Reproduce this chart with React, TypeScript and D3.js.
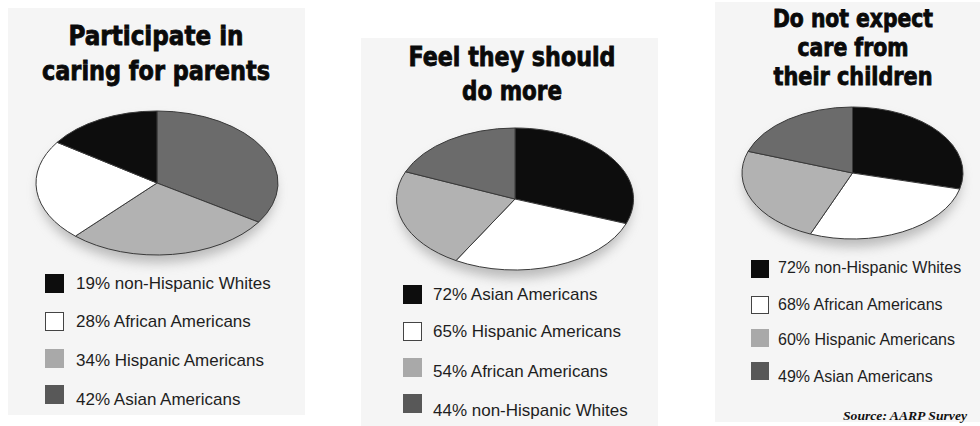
import React from "react";
import * as d3 from "d3";

// ---- data ----
const titles1 = ["Participate in", "caring for parents"];
const groups1 = ["non-Hispanic Whites", "African Americans", "Hispanic Americans", "Asian Americans"];
const values1 = [19, 28, 34, 42];

const titles2 = ["Feel they should", "do more"];
const groups2 = ["Asian Americans", "Hispanic Americans", "African Americans", "non-Hispanic Whites"];
const values2 = [72, 65, 54, 44];

const titles3 = ["Do not expect", "care from", "their children"];
const groups3 = ["non-Hispanic Whites", "African Americans", "Hispanic Americans", "Asian Americans"];
const values3 = [72, 68, 60, 49];

const sourceNote = "Source: AARP Survey";

// ---- styles ----
const swatches = ["#0d0d0d", "#ffffff", "#b2b2b2", "#6b6b6b"];
const legendSwatches = ["#0d0d0d", "#ffffff", "#a9a9a9", "#585858"];

type Layout = {
  bg: { x: number; y: number; w: number; h: number };
  cx: number; cy: number; rx: number; ry: number;
  reverse: boolean;
  titleX: number; titleY: number[]; titleSize: number; titleLens: number[];
  legendX: number; sw: number; squareY: number[];
  textX: number; textY: number[]; fontSize: number;
};

const layouts: Layout[] = [
  {
    bg: { x: 8, y: 8, w: 297, h: 407 },
    cx: 157, cy: 183, rx: 121, ry: 72, reverse: true,
    titleX: 156, titleY: [45, 80], titleSize: 27, titleLens: [175, 228],
    legendX: 45, sw: 19, squareY: [274, 312, 349, 385],
    textX: 76, textY: [289, 327, 366, 405], fontSize: 17,
  },
  {
    bg: { x: 361, y: 38, w: 297, h: 388 },
    cx: 515, cy: 199, rx: 118.5, ry: 71, reverse: false,
    titleX: 512, titleY: [66, 100], titleSize: 27, titleLens: [207, 100],
    legendX: 403, sw: 19, squareY: [285, 322, 358, 394],
    textX: 433, textY: [300, 337, 377, 416], fontSize: 17,
  },
  {
    bg: { x: 715, y: 2, w: 265, h: 420 },
    cx: 852.5, cy: 173, rx: 110.5, ry: 66, reverse: false,
    titleX: 853, titleY: [27, 56, 85], titleSize: 24, titleLens: [160, 111, 159],
    legendX: 751, sw: 18, squareY: [260, 296, 329, 362],
    textX: 778, textY: [273, 310, 345, 382], fontSize: 16,
  },
];

const panelData = [
  { titles: titles1, groups: groups1, values: values1 },
  { titles: titles2, groups: groups2, values: values2 },
  { titles: titles3, groups: groups3, values: values3 },
];

const titleFont = "'Liberation Sans Narrow', 'DejaVu Sans Condensed', 'Arial Narrow', sans-serif";
const bodyFont = "'Liberation Sans', Arial, Helvetica, sans-serif";

function Panel({ idx }: { idx: number }) {
  const L = layouts[idx];
  const D = panelData[idx];
  const items = D.values.map((v, i) => ({ v, i, g: D.groups[i] }));
  const ordered = L.reverse ? [...items].reverse() : items;
  const pie = d3.pie<{ v: number; i: number }>().sort(null).value((d) => d.v);
  const arcs = pie(ordered);
  const arc = d3.arc<d3.PieArcDatum<{ v: number; i: number }>>().innerRadius(0).outerRadius(L.rx);

  return (
    <g>
      <rect x={L.bg.x} y={L.bg.y} width={L.bg.w} height={L.bg.h} fill="#f5f5f5" />
      {D.titles.map((t, k) => (
        <text
          key={k}
          x={L.titleX}
          y={L.titleY[k]}
          textAnchor="middle"
          fontFamily={titleFont}
          fontWeight="bold"
          fontSize={L.titleSize}
          fill="#0a0a0a"
          stroke="#0a0a0a"
          strokeWidth={0.8}
          textLength={L.titleLens[k]}
          lengthAdjust="spacingAndGlyphs"
        >
          {t}
        </text>
      ))}
      <ellipse cx={L.cx} cy={L.cy + 8} rx={L.rx * 0.98} ry={L.ry} fill="#8a8a8a" opacity={0.55} filter="url(#shadowBlur)" />
      <g transform={`translate(${L.cx},${L.cy}) scale(1,${L.ry / L.rx})`}>
        {arcs.map((a, k) => (
          <path
            key={k}
            d={arc(a) || ""}
            fill={swatches[a.data.i]}
            stroke="#3a3a3a"
            strokeWidth={1}
            vectorEffect="non-scaling-stroke"
          />
        ))}
      </g>
      {D.groups.map((g, i) => (
        <g key={i}>
          <rect
            x={L.legendX + (i === 1 ? 0.5 : 0)}
            y={L.squareY[i] + (i === 1 ? 0.5 : 0)}
            width={L.sw - (i === 1 ? 1 : 0)}
            height={L.sw - (i === 1 ? 1 : 0)}
            fill={legendSwatches[i]}
            stroke={i === 1 ? "#444" : "none"}
            strokeWidth={1}
          />
          <text x={L.textX} y={L.textY[i]} fontFamily={bodyFont} fontSize={L.fontSize} fill="#1e1e1e">
            {`${D.values[i]}% ${g}`}
          </text>
        </g>
      ))}
    </g>
  );
}

export default function App() {
  return (
    <svg
      width={980}
      height={426}
      viewBox="0 0 980 426"
      style={{ position: "absolute", left: 0, top: 0, background: "#ffffff" }}
    >
      <defs>
        <filter id="shadowBlur" x="-30%" y="-30%" width="160%" height="160%">
          <feGaussianBlur stdDeviation={6} />
        </filter>
      </defs>
      <rect x={0} y={0} width={980} height={426} fill="#ffffff" />
      {layouts.map((_, i) => (
        <Panel key={i} idx={i} />
      ))}
      <text
        x={967}
        y={420}
        textAnchor="end"
        fontFamily="'Liberation Serif', 'DejaVu Serif', serif"
        fontStyle="italic"
        fontWeight="bold"
        fontSize={13}
        fill="#111"
        textLength={124}
        lengthAdjust="spacingAndGlyphs"
      >
        {sourceNote}
      </text>
    </svg>
  );
}
